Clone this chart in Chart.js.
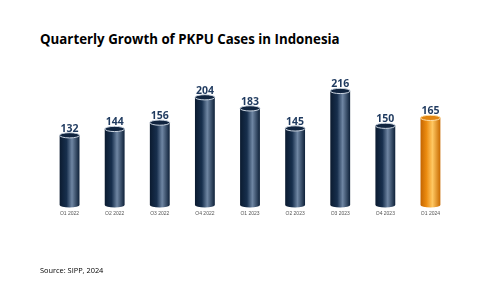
<!DOCTYPE html>
<html>
<head>
<meta charset="utf-8">
<script src="https://cdn.jsdelivr.net/npm/chart.js@4"></script>
<style>
  html, body { margin: 0; padding: 0; background: #fff; }
  #wrap { position: relative; width: 500px; height: 281px; }
  #title { position: absolute; left: 40px; top: 30px; font: bold 13.3px "Open Sans", sans-serif; color: #000; white-space: nowrap; }
  #source { position: absolute; left: 40px; top: 265px; font: 7.4px "Open Sans", sans-serif; color: #000; }
  canvas { position: absolute; left: 0; top: 0; }
</style>
</head>
<body>
<div id="wrap">
  <div id="title">Quarterly Growth of PKPU Cases in Indonesia</div>
  <canvas id="c" width="500" height="281"></canvas>
  <div id="source">Source: SIPP, 2024</div>
</div>
<script>
const quarters = ['Q1 2022', 'Q2 2022', 'Q3 2022', 'Q4 2022', 'Q1 2023', 'Q2 2023', 'Q3 2023', 'Q4 2023', 'Q1 2024'];
const cases = [132, 144, 156, 204, 183, 145, 216, 150, 165];
const highlighted = ['Q1 2024'];

// draws each bar as a shaded cylinder plus the value on top
const cylinders = {
  id: 'cylinders',
  afterDatasetsDraw(chart) {
    const ctx = chart.ctx;
    const meta = chart.getDatasetMeta(0);
    meta.data.forEach((bar, i) => {
      const w = bar.width, x0 = bar.x - w / 2, top = bar.y, base = bar.base;
      const orange = highlighted.includes(quarters[i]);
      const g = ctx.createLinearGradient(x0, 0, x0 + w, 0);
      if (orange) {
        g.addColorStop(0, '#c46500');
        g.addColorStop(0.3, '#ec8c10');
        g.addColorStop(0.6, '#ffc863');
        g.addColorStop(1, '#c86a00');
      } else {
        g.addColorStop(0, '#0b1b30');
        g.addColorStop(0.35, '#172f4d');
        g.addColorStop(0.62, '#6f86a3');
        g.addColorStop(1, '#0d2038');
      }
      const ry = 2.6;
      ctx.save();
      ctx.fillStyle = g;
      ctx.beginPath();
      ctx.moveTo(x0, top);
      ctx.lineTo(x0, base);
      ctx.ellipse(bar.x, base, w / 2, ry, 0, Math.PI, 0, true);
      ctx.lineTo(x0 + w, top);
      ctx.closePath();
      ctx.fill();
      // top cap
      ctx.beginPath();
      ctx.ellipse(bar.x, top, w / 2, ry, 0, 0, Math.PI * 2);
      ctx.fillStyle = orange ? '#e08410' : '#10243f';
      ctx.fill();
      ctx.lineWidth = 1;
      ctx.strokeStyle = orange ? '#ffe0a8' : '#c9d3df';
      ctx.stroke();
      // value label
      ctx.fillStyle = '#1f3a5f';
      ctx.font = 'bold 10.5px "Open Sans", sans-serif';
      ctx.textAlign = 'center';
      ctx.textBaseline = 'bottom';
      ctx.fillText(cases[i], bar.x, top - 1.5);
      ctx.restore();
    });
  }
};

new Chart(document.getElementById('c'), {
  type: 'bar',
  data: {
    labels: quarters,
    datasets: [{
      data: cases,
      backgroundColor: 'rgba(0,0,0,0)',
      barPercentage: 0.88,
      categoryPercentage: 0.5
    }]
  },
  options: {
    responsive: false,
    animation: false,
    layout: { padding: { left: 47, right: 47, top: 73, bottom: 66 } },
    plugins: { legend: { display: false }, tooltip: { enabled: false } },
    scales: {
      x: {
        grid: { display: false },
        border: { display: false },
        ticks: { color: '#555', font: { size: 5, family: 'Liberation Sans' }, padding: -2, maxRotation: 0 }
      },
      y: {
        display: false,
        min: 0,
        max: 250
      }
    }
  },
  plugins: [cylinders]
});
</script>
</body>
</html>
